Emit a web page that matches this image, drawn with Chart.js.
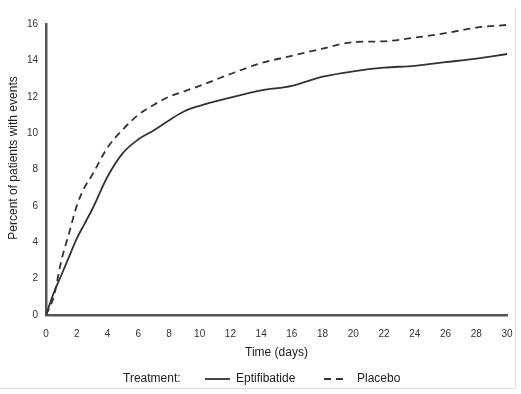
<!DOCTYPE html>
<html>
<head>
<meta charset="utf-8">
<script src="https://cdn.jsdelivr.net/npm/chart.js@4"></script>
<style>
  html, body { margin: 0; padding: 0; background: #fff; }
  #wrap { position: relative; width: 521px; height: 394px; }
</style>
</head>
<body>
<div id="wrap"><canvas id="eventsChart" width="521" height="394"></canvas></div>
<script>
// days of follow-up
const days = [0, 0.5, 1, 1.5, 2, 2.5, 3, 4, 5, 6, 7, 8, 9, 10, 12, 14, 16, 18, 20, 22, 24, 26, 28, 30];
// percent of patients with events
const eptifibatide = [0, 1.2, 2.2, 3.2, 4.2, 5.0, 5.8, 7.6, 8.9, 9.65, 10.15, 10.7, 11.2, 11.5, 11.95, 12.35, 12.6, 13.1, 13.4, 13.6, 13.7, 13.9, 14.1, 14.35];
const placebo = [0, 1.0, 3.0, 4.5, 6.0, 7.0, 7.7, 9.2, 10.2, 11.0, 11.55, 12.0, 12.3, 12.6, 13.25, 13.85, 14.25, 14.65, 15.0, 15.05, 15.25, 15.5, 15.8, 15.95];
const seriesNames = ["Eptifibatide", "Placebo"];
const legendTitle = "Treatment:";
const yTitle = "Percent of patients with events";

const FONT = "'Liberation Sans', Arial, sans-serif";
const INK = "#333";

function toPoints(ys) {
  return days.map((d, i) => ({ x: d, y: ys[i] }));
}

// legend row under the chart, y title, and the thin frame of the figure
const extras = {
  id: "extras",
  afterDraw(chart) {
    const ctx = chart.ctx;
    const y = 379;
    ctx.save();
    ctx.strokeStyle = "#ddd";
    ctx.lineWidth = 1;
    ctx.beginPath();
    ctx.moveTo(515.5, 8);
    ctx.lineTo(515.5, 388.5);
    ctx.lineTo(0, 388.5);
    ctx.stroke();

    ctx.font = "12px " + FONT;
    ctx.fillStyle = "#222";
    ctx.textBaseline = "middle";

    // rotated y-axis title, sits a little above the plot centre
    ctx.save();
    ctx.translate(14, 158);
    ctx.rotate(-Math.PI / 2);
    ctx.textAlign = "center";
    ctx.fillText(yTitle, 0, 0);
    ctx.restore();

    ctx.fillText(legendTitle, 123, y);

    ctx.strokeStyle = INK;
    ctx.lineWidth = 1.8;
    ctx.beginPath();
    ctx.moveTo(205, y);
    ctx.lineTo(230, y);
    ctx.stroke();
    ctx.fillText(seriesNames[0], 236, y);

    ctx.setLineDash([7, 5]);
    ctx.beginPath();
    ctx.moveTo(324, y);
    ctx.lineTo(343, y);
    ctx.stroke();
    ctx.setLineDash([]);
    ctx.fillText(seriesNames[1], 357, y);
    ctx.restore();
  },
};

const ctx = document.getElementById("eventsChart").getContext("2d");
new Chart(ctx, {
  type: "line",
  data: {
    datasets: [
      {
        label: seriesNames[0],
        data: toPoints(eptifibatide),
        borderColor: INK,
        borderWidth: 1.8,
        pointRadius: 0,
        cubicInterpolationMode: "monotone",
        fill: false,
      },
      {
        label: seriesNames[1],
        data: toPoints(placebo),
        borderColor: INK,
        borderWidth: 1.8,
        borderDash: [7, 5],
        pointRadius: 0,
        cubicInterpolationMode: "monotone",
        fill: false,
      },
    ],
  },
  options: {
    responsive: false,
    animation: false,
    layout: { padding: { left: 0, top: 24, right: 14, bottom: 31 } },
    plugins: {
      legend: { display: false },
      tooltip: { enabled: false },
    },
    scales: {
      x: {
        type: "linear",
        min: 0,
        max: 30,
        ticks: { stepSize: 2, padding: 13, color: INK, font: { size: 10, family: FONT } },
        grid: { display: false, drawTicks: false },
        border: { color: "#555", width: 2.5 },
        title: {
          display: true,
          text: "Time (days)",
          color: "#222",
          font: { size: 12, family: FONT },
          padding: { top: 0, bottom: 3 },
        },
        afterFit(scale) {
          scale.height = 48;
          // tick padding would otherwise eat into the right edge
          scale.paddingLeft = 0;
          scale.paddingRight = 0;
        },
      },
      y: {
        min: 0,
        max: 16,
        ticks: { stepSize: 2, padding: 8, color: INK, font: { size: 10, family: FONT } },
        grid: { display: false, drawTicks: false },
        border: { color: "#555", width: 2.5 },
        title: { display: false },
        afterFit(scale) { scale.width = 46; },
      },
    },
  },
  plugins: [extras],
});
</script>
</body>
</html>
